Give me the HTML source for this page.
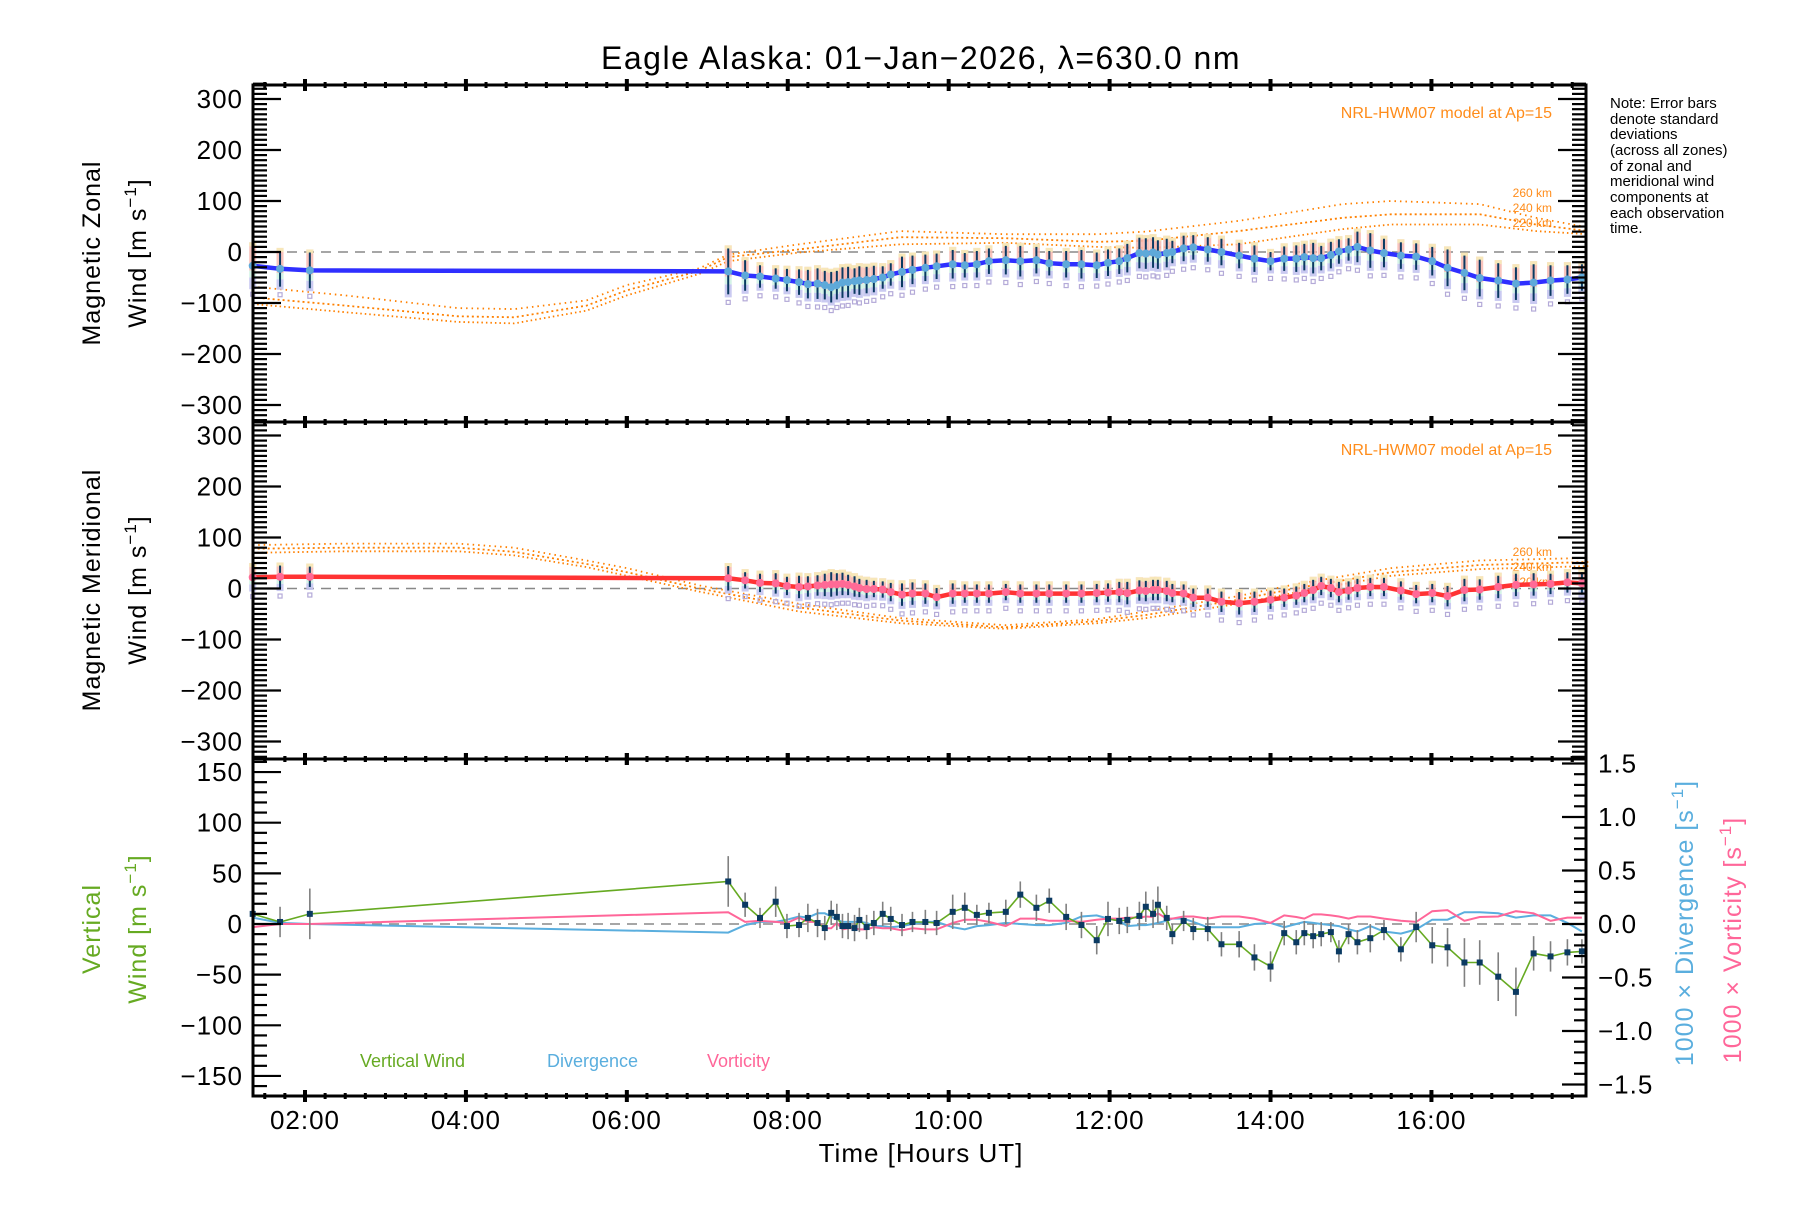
<!DOCTYPE html>
<html><head><meta charset="utf-8"><style>
html,body{margin:0;padding:0;background:#fff}
svg text{font-family:"Liberation Sans",sans-serif}
</style></head><body>
<svg id="chart" width="1800" height="1200" viewBox="0 0 1800 1200" xmlns="http://www.w3.org/2000/svg">
<rect width="1800" height="1200" fill="#fff"/>
<text x="921" y="69" font-size="32" letter-spacing="1.5" text-anchor="middle">Eagle Alaska: 01−Jan−2026, λ=630.0 nm</text>
<g font-size="15" fill="#000">
<text x="1610" y="108">Note: Error bars</text><text x="1610" y="124">denote standard</text><text x="1610" y="139">deviations</text><text x="1610" y="155">(across all zones)</text><text x="1610" y="171">of zonal and</text><text x="1610" y="186">meridional wind</text><text x="1610" y="202">components at</text><text x="1610" y="218">each observation</text><text x="1610" y="233">time.</text>
</g>
<text transform="translate(100,253) rotate(-90)" font-size="25" letter-spacing="1" text-anchor="middle">Magnetic Zonal</text>
<text transform="translate(146,253) rotate(-90)" font-size="25" letter-spacing="1" text-anchor="middle">Wind [m s<tspan dy="-10" font-size="17">−1</tspan><tspan dy="10">]</tspan></text>
<text transform="translate(100,590) rotate(-90)" font-size="25" letter-spacing="1" text-anchor="middle">Magnetic Meridional</text>
<text transform="translate(146,590) rotate(-90)" font-size="25" letter-spacing="1" text-anchor="middle">Wind [m s<tspan dy="-10" font-size="17">−1</tspan><tspan dy="10">]</tspan></text>
<text transform="translate(100,929) rotate(-90)" font-size="25" letter-spacing="1" text-anchor="middle" fill="#66aa22">Vertical</text>
<text transform="translate(146,929) rotate(-90)" font-size="25" letter-spacing="1" text-anchor="middle" fill="#66aa22">Wind [m s<tspan dy="-10" font-size="17">−1</tspan><tspan dy="10">]</tspan></text>
<text transform="translate(1693,923) rotate(-90)" font-size="25" letter-spacing="1" text-anchor="middle" fill="#5aaede">1000 × Divergence [s<tspan dy="-10" font-size="17">−1</tspan><tspan dy="10">]</tspan></text>
<text transform="translate(1741,940) rotate(-90)" font-size="25" letter-spacing="1" text-anchor="middle" fill="#ff6699">1000 × Vorticity [s<tspan dy="-10" font-size="17">−1</tspan><tspan dy="10">]</tspan></text>
<text x="921" y="1162" font-size="26" letter-spacing="1" text-anchor="middle">Time [Hours UT]</text>
<text x="1552" y="118" font-size="16" text-anchor="end" fill="#ff8c1a">NRL-HWM07 model at Ap=15</text>
<text x="1552" y="455" font-size="16" text-anchor="end" fill="#ff8c1a">NRL-HWM07 model at Ap=15</text>
<g font-size="12" fill="#ff8c1a" text-anchor="end"><text x="1552" y="197">260 km</text><text x="1552" y="212">240 km</text><text x="1552" y="227">220 km</text></g>
<g font-size="12" fill="#ff8c1a" text-anchor="end"><text x="1552" y="556">260 km</text><text x="1552" y="571">240 km</text><text x="1552" y="586">220 km</text></g>
<text x="360" y="1067" font-size="18" fill="#66aa22">Vertical Wind</text>
<text x="547" y="1067" font-size="18" fill="#5aaede">Divergence</text>
<text x="707" y="1067" font-size="18" fill="#ff6699">Vorticity</text>
<g id="plot"></g>
</svg>
<script>
const hours=[1.35,1.69,2.06,7.26,7.47,7.655,7.85,7.99,8.14,8.25,8.37,8.46,8.54,8.61,8.68,8.75,8.83,8.89,8.98,9.07,9.18,9.28,9.42,9.55,9.71,9.85,10.05,10.2,10.35,10.5,10.71,10.89,11.09,11.25,11.46,11.65,11.84,11.98,12.12,12.22,12.37,12.45,12.54,12.6,12.71,12.78,12.92,13.04,13.22,13.39,13.61,13.8,14.0,14.17,14.32,14.42,14.53,14.63,14.75,14.85,14.97,15.08,15.24,15.41,15.62,15.81,16.01,16.2,16.41,16.6,16.83,17.05,17.27,17.48,17.69,17.87];
const zonal=[-27,-33,-36,-38,-46,-48,-52,-55,-59,-63,-62,-65,-69,-65,-60,-59,-57,-56,-55,-53,-50,-44,-39,-35,-31,-28,-24,-26,-24,-18,-16,-18,-16,-22,-24,-24,-26,-21,-18,-12,-2,-3,-1,-5,-2,0,7,9,5,0,-7,-13,-18,-13,-13,-10,-12,-12,-6,1,5,10,3,-2,-7,-9,-18,-31,-41,-51,-56,-62,-60,-56,-54,-50];
const zonalErr=[40,35,35,45,30,22,20,22,25,28,30,28,30,28,30,30,25,28,26,26,22,22,30,28,26,25,28,24,26,25,28,30,26,24,26,28,25,26,25,28,30,30,30,28,28,22,25,24,24,26,25,26,18,24,26,26,30,24,26,24,22,30,34,28,26,26,28,36,34,36,34,32,36,30,28,26];
const merid=[22,23,23,20,16,11,10,5,3,4,6,7,8,8,9,7,4,1,-1,-1,-2,-7,-12,-10,-10,-17,-10,-10,-10,-10,-7,-10,-10,-10,-10,-10,-9,-8,-7,-9,-4,-5,-3,-3,-5,-9,-10,-18,-18,-26,-29,-26,-22,-18,-14,-9,-3,5,1,-7,-4,1,3,3,-4,-11,-9,-15,-3,-2,3,7,8,9,12,10];
const meridErr=[22,22,20,24,16,18,20,18,22,20,20,22,24,22,22,20,20,18,18,16,16,18,22,22,20,18,20,18,18,18,16,18,18,18,18,18,18,18,20,22,20,20,20,20,20,18,18,18,18,20,22,20,18,18,18,18,20,18,18,20,18,18,18,18,18,18,18,20,22,20,22,22,22,20,20,22];
const vert=[10,2,10,42,19,6,22,-2,-1,6,1,-4,11,7,-2,-2,-4,4,-3,1,10,5,-1,2,2,1,12,16,9,11,12,29,16,23,7,-1,-16,5,3,4,8,17,10,19,6,-10,3,-5,-5,-20,-20,-33,-42,-9,-18,-9,-12,-10,-8,-27,-10,-18,-14,-6,-25,-3,-21,-23,-38,-38,-52,-67,-29,-32,-28,-27];
const vertErr=[20,15,25,25,12,10,15,12,12,14,14,12,12,13,12,13,13,12,12,12,12,12,11,10,12,12,17,15,10,10,12,13,13,12,13,13,14,17,13,13,14,15,14,18,12,10,10,11,12,12,13,13,15,12,12,12,12,12,10,11,10,12,14,10,12,15,18,19,24,22,24,24,17,15,13,12];
const divergence=[0.06,0.01,0.0,-0.08,-0.01,0.02,0.02,0.04,0.07,0.06,0.10,0.10,0.07,0.04,0.02,0.02,0.02,0.02,0.01,-0.02,-0.02,-0.03,-0.02,0.0,0.02,0.02,-0.03,-0.05,-0.02,-0.01,0.01,0.0,-0.01,-0.01,0.01,0.07,0.08,0.05,0.03,-0.02,-0.01,-0.01,0.0,0.01,0.03,0.05,0.05,0.02,-0.03,-0.03,-0.03,0.0,0.01,-0.03,0.0,0.02,0.01,0.0,-0.01,-0.02,-0.05,-0.07,-0.02,-0.07,-0.09,-0.05,0.04,0.04,0.11,0.11,0.10,0.06,0.08,0.08,0.01,-0.07];
const vorticity=[-0.03,0.0,0.0,0.11,0.02,0.03,0.02,0.01,0.06,0.02,0.02,-0.04,-0.04,0.01,-0.05,-0.04,-0.04,-0.05,-0.05,-0.03,-0.04,-0.04,-0.06,-0.04,-0.05,-0.05,0.01,0.04,0.04,0.02,-0.02,0.05,0.05,0.03,0.03,0.02,0.04,0.05,0.05,0.06,0.06,0.07,0.065,0.10,0.05,0.05,0.07,0.07,0.05,0.07,0.07,0.05,0.01,0.08,0.065,0.05,0.09,0.09,0.08,0.07,0.05,0.07,0.07,0.05,0.03,0.02,0.12,0.13,0.03,0.065,0.07,0.12,0.10,0.03,0.06,0.06];
const zModelHours=[1.35,2.5,3.9,4.6,5.5,6.0,6.9,7.26,8.14,9.4,10.7,11.85,12.45,13.6,14.9,15.5,16.6,17.3,17.95];
const zModel260=[-68,-85,-110,-112,-95,-65,-32,-5,15,41,35,35,40,61,94,100,94,67,48];
const zModel240=[-89,-105,-126,-128,-105,-75,-37,-10,5,29,27,20,22,41,67,74,74,54,41];
const zModel220=[-102,-118,-137,-140,-115,-85,-43,-18,-1,15,18,10,8,15,45,54,54,41,35];
const mModelHours=[1.35,2.5,3.9,4.6,5.5,6.0,6.9,8.14,9.4,10.7,11.85,12.45,13.6,14.3,15.5,16.6,17.95];
const mModel260=[85,88,88,80,55,40,6,-30,-58,-72,-60,-45,-15,8,40,55,60];
const mModel240=[78,80,80,72,48,32,0,-37,-63,-76,-64,-52,-22,0,32,46,52];
const mModel220=[70,73,73,65,42,25,-6,-45,-68,-79,-68,-58,-30,-8,25,38,44];
const windTicks=[-300,-200,-100,0,100,200,300];
const windTickLabels=["−300","−200","−100","0","100","200","300"];
const vertTicks=[-150,-100,-50,0,50,100,150];
const vertTickLabels=["−150","−100","−50","0","50","100","150"];
const rightTicks=[-1.5,-1.0,-0.5,0.0,0.5,1.0,1.5];
const rightTickLabels=["−1.5","−1.0","−0.5","0.0","0.5","1.0","1.5"];
const timeTicks=[2,4,6,8,10,12,14,16];
const timeTickLabels=["02:00","04:00","06:00","08:00","10:00","12:00","14:00","16:00"];

const NS="http://www.w3.org/2000/svg";
const plot=document.getElementById('plot');
const L=253,R=1586,P=[[85,422],[422,759],[759,1096]];
const xS=h=>305+(h-2)*80.46;
const y1=v=>252-v*0.51, y2=v=>588.5-v*0.51, y3=v=>924-v*1.013, y3r=v=>924-v*107;
function mk(tag,attrs,parent){const e=document.createElementNS(NS,tag);for(const k in attrs)e.setAttribute(k,attrs[k]);(parent||plot).appendChild(e);return e;}
function grp(name){const g=mk('g',{});return g;}
function line(g,x1,y1_,x2,y2_,st,w){mk('line',{x1:x1,y1:y1_,x2:x2,y2:y2_,stroke:st,'stroke-width':w},g);}
function poly(g,pts,st,w,extra){const e=mk('polyline',Object.assign({points:pts.map(p=>p[0].toFixed(1)+','+p[1].toFixed(1)).join(' '),fill:'none',stroke:st,'stroke-width':w},extra||{}),g);return e;}

[[y1,0],[y2,1],[y3,2]].forEach(([f,i])=>{const g=grp('zero-line-'+(i+1));line(g,L,f(0),R,f(0),'#888',1.5);g.lastChild.setAttribute('stroke-dasharray','10,7');});

function modelCurves(name,hrs,sets,f){const g=grp(name);const dashes=['1.5,4','2,3','1.5,3'];sets.forEach((s,k)=>{const p=poly(g,hrs.map((h,i)=>[xS(h),f(s[i])]),'#ff8000',1.8,{'stroke-dasharray':dashes[k]});});}
modelCurves('zonal-model',zModelHours,[zModel260,zModel240,zModel220],y1);
modelCurves('meridional-model',mModelHours,[mModel260,mModel240,mModel220],y2);

function hBars(name,vals,errs,f){const g=grp(name);hours.forEach((h,i)=>{const x=xS(h),v=vals[i],e=errs[i];
 const top=f(v+e+6),bot=f(v-e-6);
 mk('rect',{x:x-3.5,y:top,width:7,height:(bot-top)*0.6,fill:'#f8b8b0','fill-opacity':0.85},g);
 mk('rect',{x:x-3.5,y:top,width:7,height:4,fill:'#f6f0b8','fill-opacity':0.8},g);
 mk('rect',{x:x-3.5,y:top+(bot-top)*0.6,width:7,height:(bot-top)*0.15,fill:'#c8f0e0','fill-opacity':0.8},g);
 mk('rect',{x:x-3.5,y:top+(bot-top)*0.75,width:7,height:(bot-top)*0.25,fill:'#c4c4f0','fill-opacity':0.9},g);
 mk('rect',{x:x-2,y:bot+3,width:4,height:4,fill:'none',stroke:'#b4aad8','stroke-width':1.2},g);
 line(g,x,f(v+e),x,f(v-e),'#0b3a62',2);});}
hBars('zonal-error-bars',zonal,zonalErr,y1);
hBars('meridional-error-bars',merid,meridErr,y2);

function series(name,vals,f,col,dot){const g=grp(name);poly(g,hours.map((h,i)=>[xS(h),f(vals[i])]),col,4.5);
 hours.forEach((h,i)=>{const c=mk('circle',{cx:xS(h),cy:f(vals[i]),r:4,fill:dot},g);});}
series('zonal-wind-line',zonal,y1,'#2f2fff','#5ea9d9');
series('meridional-wind-line',merid,y2,'#ff3333','#ff6a96');

(function(){const g=grp('divergence-line');poly(g,hours.map((h,i)=>[xS(h),y3r(divergence[i])]),'#5aaede',2);})();
(function(){const g=grp('vorticity-line');poly(g,hours.map((h,i)=>[xS(h),y3r(vorticity[i])]),'#ff6699',2);})();
(function(){const g=grp('vertical-wind');hours.forEach((h,i)=>line(g,xS(h),y3(vert[i]+vertErr[i]),xS(h),y3(vert[i]-vertErr[i]),'#808080',1.6));
 poly(g,hours.map((h,i)=>[xS(h),y3(vert[i])]),'#66aa22',1.6);
 hours.forEach((h,i)=>{const r=mk('rect',{x:xS(h)-3,y:y3(vert[i])-3,width:6,height:6,fill:'#0b3a62'},g);});})();

const ax=grp('axes');
P.forEach(([t,b])=>mk('rect',{x:L,y:t,width:R-L,height:b-t,fill:'none',stroke:'#000','stroke-width':3},ax));
P.forEach(([t,b])=>{for(let q=Math.ceil(1.35*4);q<=17.95*4;q++){const h=q/4,x=xS(h),maj=(q%8===0);const hh=maj?6:3,w=maj?4:3;[t,b].forEach(yy=>line(ax,x,yy-hh,x,yy+hh,'#000',w));}});
const xl=grp('x-tick-labels');
timeTicks.forEach((h,i)=>{const t=mk('text',{x:xS(h),y:1129,'font-size':26,'letter-spacing':1,'text-anchor':'middle'},xl);t.textContent=timeTickLabels[i];});
function yAxis(name,f,lo,hi,minorStep,majorVals,labels,side,majLen,minLen){const g=grp(name);
 const n=Math.round((hi-lo)/minorStep);for(let k=0;k<=n;k++){const v=lo+k*minorStep;const y=f(v);const isMaj=majorVals.some(m=>Math.abs(m-v)<1e-6);const len=isMaj?majLen:minLen;
  if(side==='L'||side==='B')line(g,L,y,L+len,y,'#000',2.2);if(side==='R'||side==='B')line(g,R,y,R-len,y,'#000',2.2);}
 if(labels)majorVals.forEach((v,i)=>{const t=mk('text',{x:side==='R'?R+12:L-10,y:f(v)+9,'font-size':26,'letter-spacing':1,'text-anchor':side==='R'?'start':'end'},g);t.textContent=labels[i];});}
yAxis('zonal-y-axis',y1,-330,330,10,windTicks,windTickLabels,'B',28,14);
yAxis('meridional-y-axis',y2,-330,330,10,windTicks,windTickLabels,'B',28,14);
yAxis('vertical-y-axis',y3,-160,160,10,vertTicks,vertTickLabels,'L',28,14);
yAxis('right-y-axis',y3r,-1.5,1.5,0.1,rightTicks,rightTickLabels,'R',24,12);
</script>
</body></html>
